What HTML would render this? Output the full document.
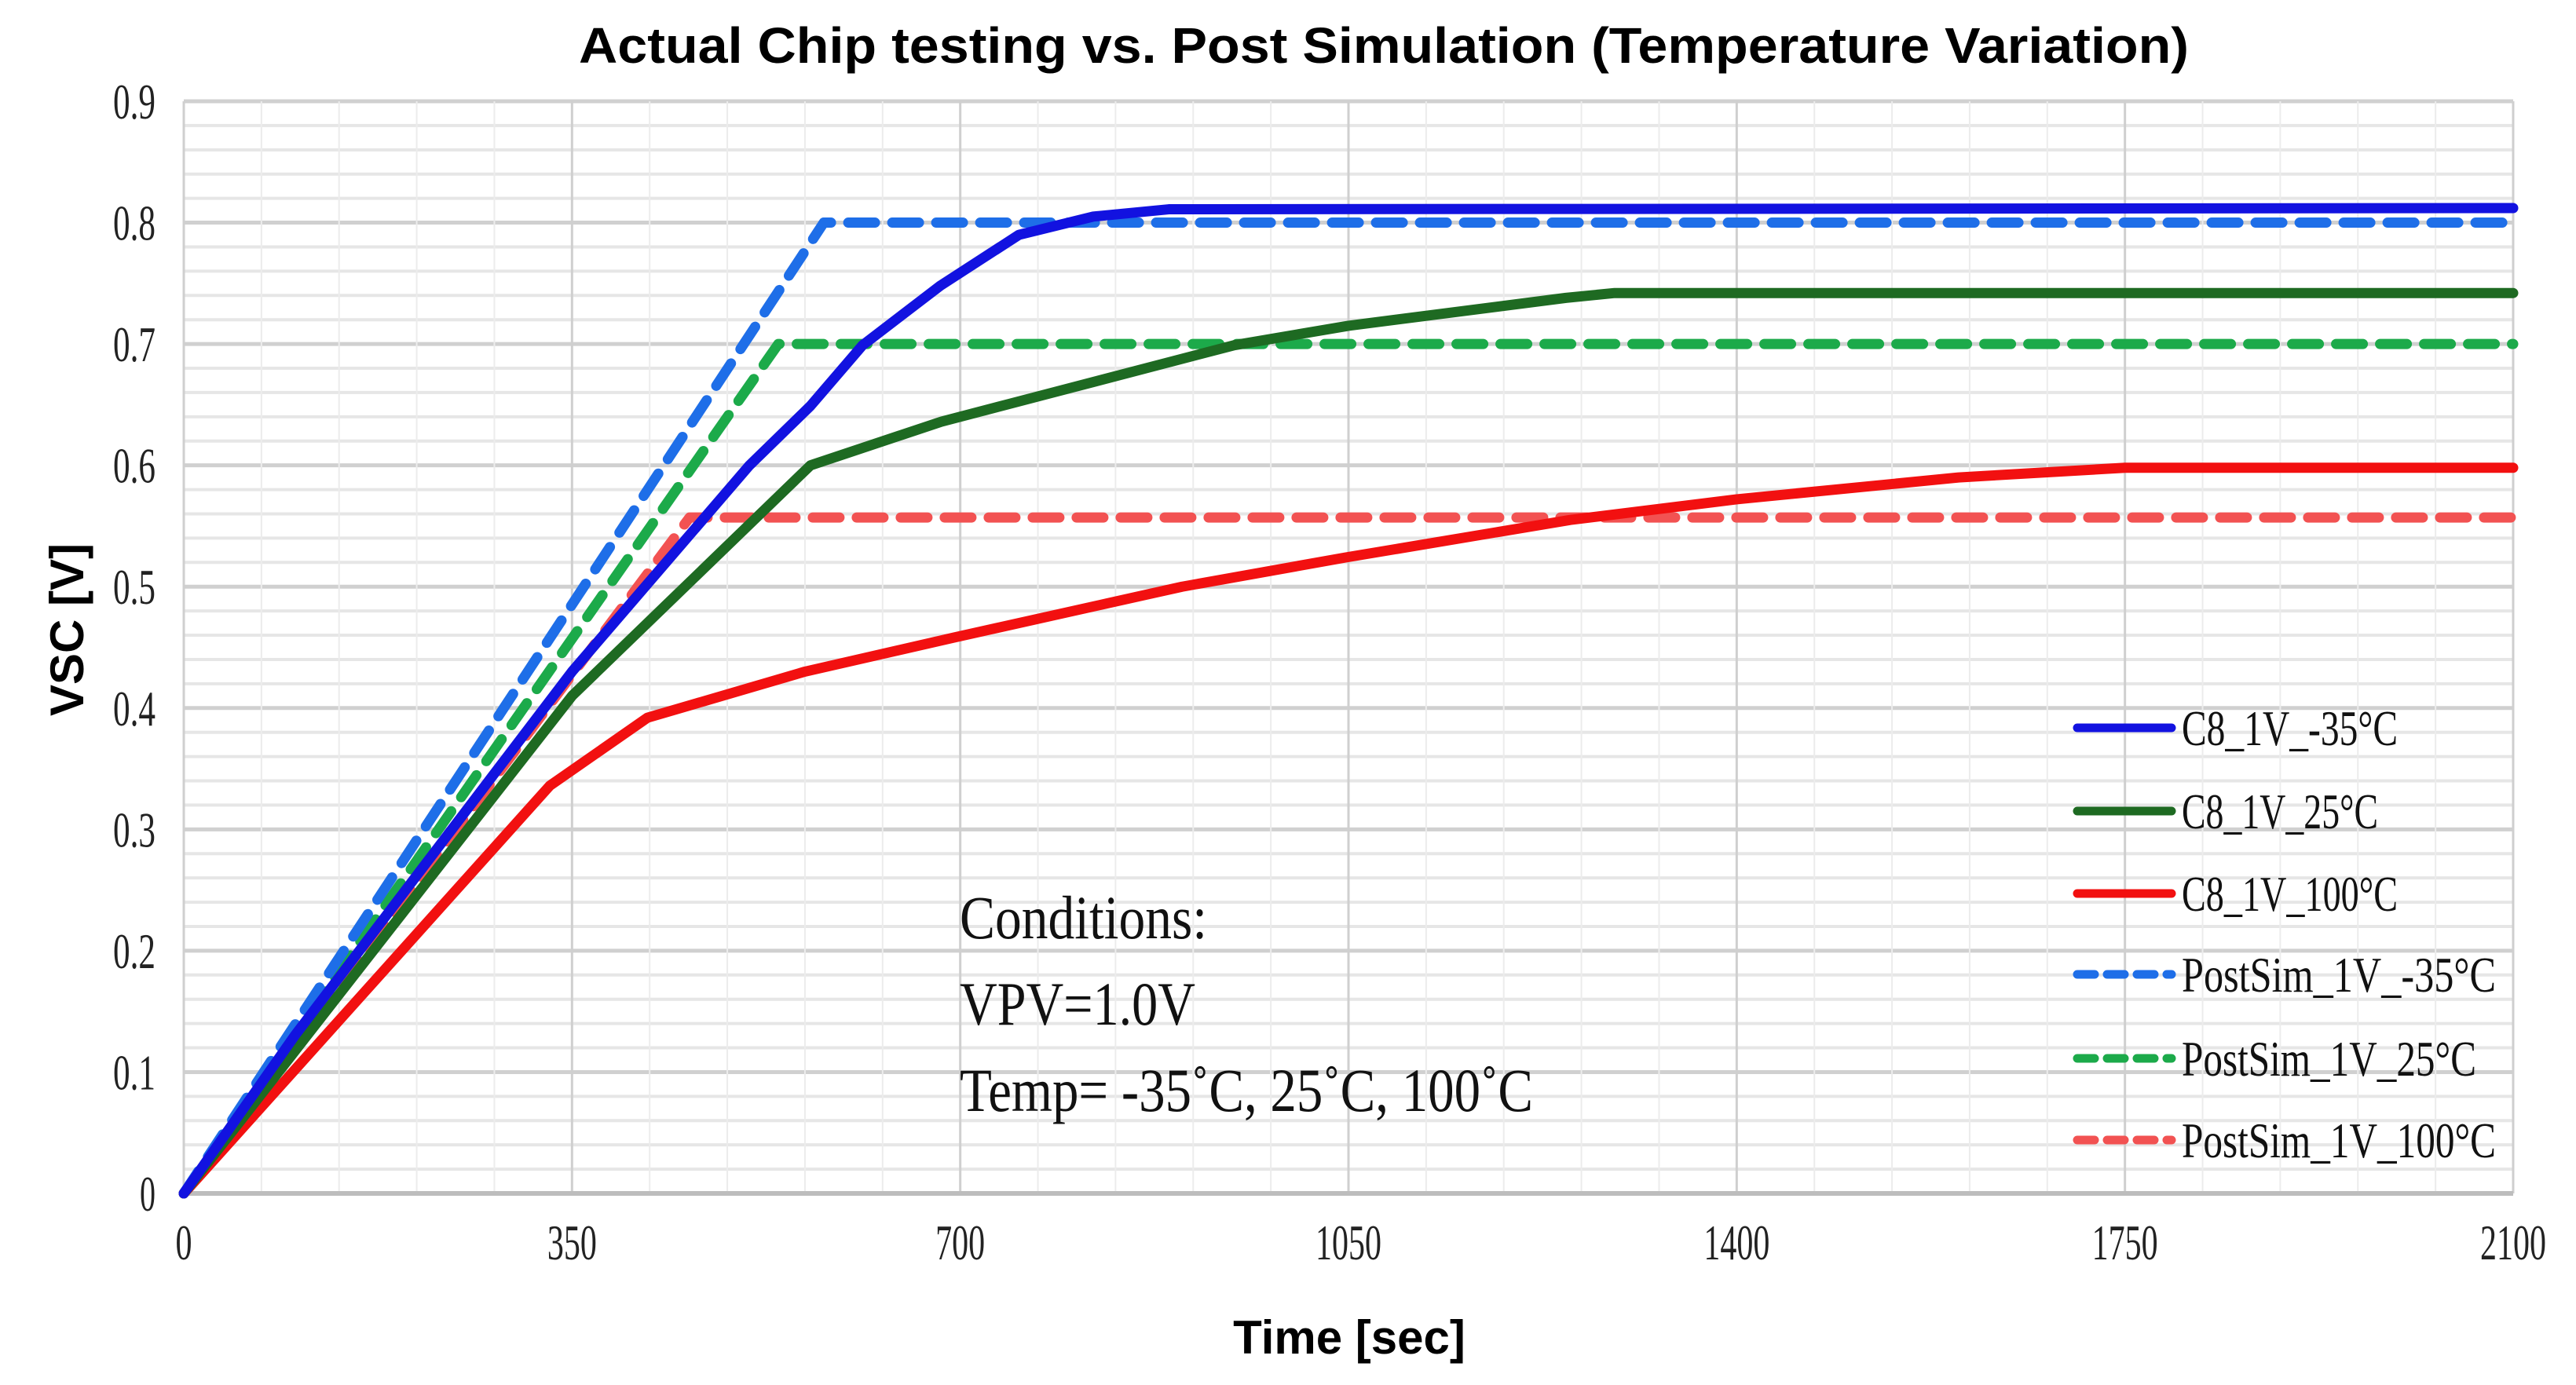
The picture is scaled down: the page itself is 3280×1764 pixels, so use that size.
<!DOCTYPE html>
<html><head><meta charset="utf-8"><style>
html,body{margin:0;padding:0;background:#fff;}
svg{display:block;}
</style></head><body>
<svg id="chart" width="3280" height="1764" xmlns="http://www.w3.org/2000/svg">
<rect x="0" y="0" width="3280" height="1764" fill="#fff"/>
<g id="grid"></g>
<g id="series"></g>
<g id="ticks"></g>
<text x="1762" y="80" text-anchor="middle" font-family="Liberation Sans, sans-serif" font-weight="bold" font-size="64" textLength="2050" lengthAdjust="spacingAndGlyphs">Actual Chip testing vs. Post Simulation (Temperature Variation)</text>
<text transform="translate(106,802) rotate(-90)" text-anchor="middle" font-family="Liberation Sans, sans-serif" font-weight="bold" font-size="60">VSC [V]</text>
<text x="1718" y="1724" text-anchor="middle" font-family="Liberation Sans, sans-serif" font-weight="bold" font-size="60">Time [sec]</text>
<g font-family="Liberation Serif, serif" font-size="78" fill="#111">
<text x="1222" y="1195" textLength="315" lengthAdjust="spacingAndGlyphs">Conditions:</text>
<text x="1222" y="1305" textLength="300" lengthAdjust="spacingAndGlyphs">VPV=1.0V</text>
<text x="1222" y="1415" textLength="730" lengthAdjust="spacingAndGlyphs">Temp= -35˚C, 25˚C, 100˚C</text>
</g>
<g id="legend"></g>
</svg>
<script>
const xTicks=[0,350,700,1050,1400,1750,2100];
const yTicks=[0,0.1,0.2,0.3,0.4,0.5,0.6,0.7,0.8,0.9];
const seriesNames=["C8_1V_-35°C","C8_1V_25°C","C8_1V_100°C","PostSim_1V_-35°C","PostSim_1V_25°C","PostSim_1V_100°C"];
const t_c8m35=[0,100,350,510,565,612,682,753,820,888,2100];
const v_c8m35=[0,0.13,0.43,0.6,0.649,0.699,0.748,0.79,0.805,0.811,0.812];
const t_c825=[0,350,565,683,947,1050,1246,1290,2100];
const v_c825=[0,0.41,0.6,0.636,0.699,0.715,0.738,0.742,0.742];
const t_c8100=[0,330,418,560,694,900,1047,1250,1400,1600,1750,2100];
const v_c8100=[0,0.336,0.392,0.43,0.458,0.5,0.524,0.555,0.572,0.59,0.598,0.598];
const t_psm35=[0,577,2100];
const v_psm35=[0,0.8,0.8];
const t_ps25=[0,536,2100];
const v_ps25=[0,0.7,0.7];
const t_ps100=[0,456,2100];
const v_ps100=[0,0.557,0.557];

const X0=234,X1=3200,Y0=1520,Y1=129,XMAX=2100,YMAX=0.9;
const sx=t=>X0+(X1-X0)*t/XMAX;
const sy=v=>Y0-(Y0-Y1)*v/YMAX;
const NS="http://www.w3.org/2000/svg";
function mk(tag,attrs,parent){const e=document.createElementNS(NS,tag);for(const k in attrs)e.setAttribute(k,attrs[k]);parent.appendChild(e);return e;}
const grid=document.getElementById('grid');
for(let i=0;i<=45;i++){const v=i*0.02;const y=sy(v);const major=i%5===0;
 const l=mk('line',{x1:X0,x2:X1,y1:y,y2:y,stroke:major?'#d0d0d0':'#e6e6e6','stroke-width':major?5:4},grid);
 
 }
for(let i=0;i<=30;i++){const t=i*70;const x=sx(t);const major=i%5===0;
 const l=mk('line',{x1:x,x2:x,y1:Y1,y2:Y0,stroke:major?'#cfcfcf':'#ececec','stroke-width':major?3:2},grid);
 
 }
const ax=mk('line',{x1:X0,x2:X1,y1:Y0,y2:Y0,stroke:'#bdbdbd','stroke-width':6},grid);


const ticks=document.getElementById('ticks');
yTicks.forEach(v=>{const s=String(v);const t=mk('text',{x:198,y:sy(v)+22,'text-anchor':'end','font-family':'Liberation Serif, serif','font-size':64,fill:'#222',textLength:(s.length===1?20:54),lengthAdjust:'spacingAndGlyphs'},ticks);
 t.textContent=s;
 
 });
xTicks.forEach(v=>{const s=String(v);const t=mk('text',{x:sx(v),y:1604,'text-anchor':'middle','font-family':'Liberation Serif, serif','font-size':64,fill:'#222',textLength:s.length*21,lengthAdjust:'spacingAndGlyphs'},ticks);
 t.textContent=s;
 
 });
const styles=[
 {c:'#1212e0',w:13,d:null,ts:t_c8m35,vs:v_c8m35},
 {c:'#1e6a22',w:13,d:null,ts:t_c825,vs:v_c825},
 {c:'#f21010',w:13,d:null,ts:t_c8100,vs:v_c8100},
 {c:'#1e6ee8',w:13,d:'34 22',ts:t_psm35,vs:v_psm35},
 {c:'#1caa4a',w:13,d:'34 22',ts:t_ps25,vs:v_ps25},
 {c:'#f25252',w:13,d:'34 22',ts:t_ps100,vs:v_ps100}];
const sg=document.getElementById('series');
const order=[5,4,3,2,1,0];
order.forEach(i=>{const s=styles[i];const pts=s.ts.map((t,k)=>sx(t)+','+sy(s.vs[k])).join(' ');
 const a={points:pts,fill:'none',stroke:s.c,'stroke-width':s.w,'stroke-linejoin':'round','stroke-linecap':'round'};
 if(s.d)a['stroke-dasharray']=s.d;
 const p=mk('polyline',a,sg);
 
 });
const lg=document.getElementById('legend');
const ly=[927,1033,1138,1241,1348,1452];
seriesNames.forEach((n,i)=>{const s=styles[i];
 const g=mk('g',{},lg);
 
 
 const a={x1:2645,x2:2765,y1:ly[i],y2:ly[i],stroke:s.c,'stroke-width':11,'stroke-linecap':'round'};
 if(s.d)a['stroke-dasharray']='22 16';
 mk('line',a,g);
 const t=mk('text',{x:2778,y:ly[i]+22,'font-family':'Liberation Serif, serif','font-size':64,fill:'#111',textLength:(n.length*25).toString(),lengthAdjust:'spacingAndGlyphs'},g);
 t.textContent=n;});
</script>
</body></html>
